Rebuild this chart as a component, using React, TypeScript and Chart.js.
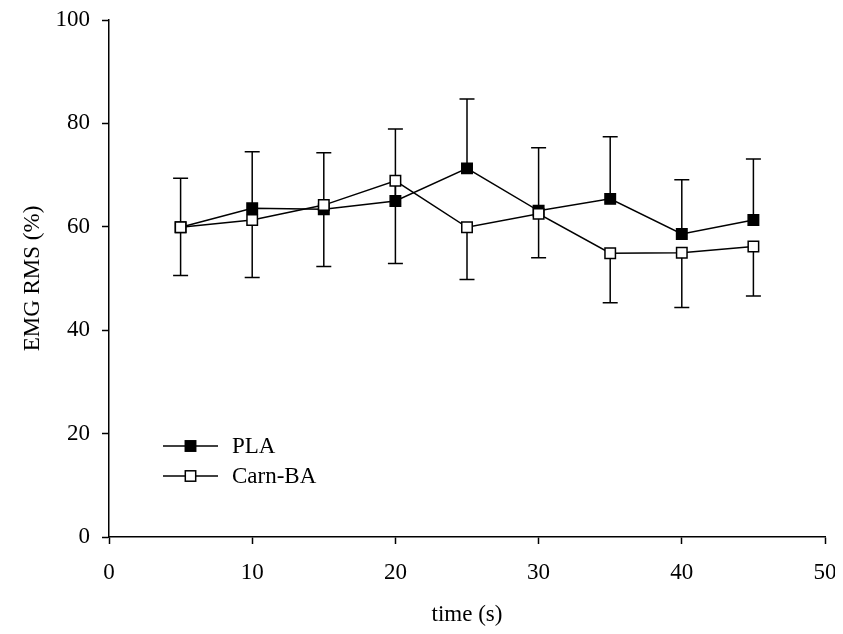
import React, { useEffect, useRef } from "react";
import { Chart, registerables } from "chart.js";

Chart.register(...registerables);

const timePoints = [5, 10, 15, 20, 25, 30, 35, 40, 45];
const plaMean = [59.9, 63.6, 63.4, 65.0, 71.3, 63.1, 65.4, 58.6, 61.3];
const plaSD = [9.5, 10.9, 10.9, 13.9, 13.4, 12.2, 12.0, 10.5, 11.8];
const carnMean = [59.9, 61.3, 64.2, 68.9, 59.9, 62.5, 54.9, 55.0, 56.2];
const carnSD = [9.3, 11.1, 11.9, 16.0, 10.1, 8.5, 9.6, 10.6, 9.6];
const seriesNames = ["PLA", "Carn-BA"];
const xTitle = "time (s)";
const yTitle = "EMG RMS (%)";

const FONT = "'Liberation Serif', 'Times New Roman', serif";
const FS = 23;

const errorBarPlugin = {
  id: "errorBars",
  beforeDatasetsDraw(chart: any) {
    const { ctx, scales } = chart;
    const xs = scales.x;
    const ys = scales.y;
    ctx.save();
    ctx.strokeStyle = "#000";
    ctx.lineWidth = 1.5;
    const cap = 7.5;
    const drawBar = (x: number, v0: number, v1: number) => {
      const px = xs.getPixelForValue(x);
      const p0 = ys.getPixelForValue(v0);
      const p1 = ys.getPixelForValue(v1);
      ctx.beginPath();
      ctx.moveTo(px, p0);
      ctx.lineTo(px, p1);
      ctx.moveTo(px - cap, p1);
      ctx.lineTo(px + cap, p1);
      ctx.stroke();
    };
    timePoints.forEach((t, i) => {
      drawBar(t, plaMean[i], plaMean[i] + plaSD[i]);
      drawBar(t, carnMean[i], carnMean[i] - carnSD[i]);
    });
    ctx.restore();
  },
};

const legendPlugin = {
  id: "customLegend",
  afterDraw(chart: any) {
    const { ctx, chartArea } = chart;
    const x0 = chartArea.left + 54;
    const x1 = chartArea.left + 109;
    const xm = chartArea.left + 81.5;
    const tx = chartArea.left + 123;
    const rows = [
      { y: chartArea.bottom - 91, fill: "#000", label: seriesNames[0] },
      { y: chartArea.bottom - 61, fill: "#fff", label: seriesNames[1] },
    ];
    ctx.save();
    rows.forEach((r) => {
      ctx.strokeStyle = "#000";
      ctx.lineWidth = 1.5;
      ctx.beginPath();
      ctx.moveTo(x0, r.y);
      ctx.lineTo(x1, r.y);
      ctx.stroke();
      const s = 5.2;
      ctx.fillStyle = r.fill;
      ctx.fillRect(xm - s, r.y - s, 2 * s, 2 * s);
      ctx.strokeRect(xm - s, r.y - s, 2 * s, 2 * s);
      ctx.fillStyle = "#000";
      ctx.font = `${FS}px ${FONT}`;
      ctx.textAlign = "left";
      ctx.textBaseline = "middle";
      ctx.fillText(r.label, tx, r.y + 1);
    });
    ctx.restore();
  },
};

export default function App() {
  const ref = useRef<HTMLCanvasElement | null>(null);
  useEffect(() => {
    if (!ref.current) return;
    const chart = new Chart(ref.current, {
      type: "line",
      data: {
        datasets: [
          {
            label: seriesNames[0],
            data: timePoints.map((t, i) => ({ x: t, y: plaMean[i] })),
            borderColor: "#000",
            borderWidth: 1.5,
            backgroundColor: "#000",
            pointStyle: "rect",
            pointRadius: 7.4,
            pointBorderWidth: 1.5,
            pointBackgroundColor: "#000",
            pointBorderColor: "#000",
            order: 1,
          },
          {
            label: seriesNames[1],
            data: timePoints.map((t, i) => ({ x: t, y: carnMean[i] })),
            borderColor: "#000",
            borderWidth: 1.5,
            backgroundColor: "#fff",
            pointStyle: "rect",
            pointRadius: 7.4,
            pointBorderWidth: 1.5,
            pointBackgroundColor: "#fff",
            pointBorderColor: "#000",
            order: 0,
          },
        ],
      },
      options: {
        responsive: false,
        animation: false,
        layout: { padding: { top: 12, right: 10, bottom: 0, left: 0 } },
        plugins: {
          legend: { display: false },
          tooltip: { enabled: false },
        },
        scales: {
          x: {
            type: "linear",
            min: 0,
            max: 50,
            ticks: {
              stepSize: 10,
              color: "#000",
              font: { family: FONT, size: FS },
              padding: 15,
              maxRotation: 0,
            },
            grid: {
              drawOnChartArea: false,
              drawTicks: true,
              tickLength: 7,
              tickWidth: 1.5,
              color: "#000",
            },
            border: { display: true, color: "#000", width: 1.5 },
            title: {
              display: true,
              text: xTitle,
              color: "#000",
              font: { family: FONT, size: FS, lineHeight: 1 },
              padding: { top: 0, bottom: 0 },
            },
            afterFit(scale: any) {
              scale.height = 89;
              scale.paddingLeft = 0;
              scale.paddingRight = 0;
            },
          },
          y: {
            type: "linear",
            min: 0,
            max: 100,
            ticks: {
              stepSize: 20,
              color: "#000",
              font: { family: FONT, size: FS },
              padding: 12,
            },
            grid: {
              drawOnChartArea: false,
              drawTicks: true,
              tickLength: 7,
              tickWidth: 1.5,
              color: "#000",
            },
            border: { display: true, color: "#000", width: 1.5 },
            title: {
              display: true,
              text: yTitle,
              color: "#000",
              font: { family: FONT, size: FS, lineHeight: 1 },
              padding: { top: 13, bottom: 0 },
            },
            afterFit(scale: any) {
              scale.width = 101;
              scale.paddingTop = 0;
              scale.paddingBottom = 0;
            },
          },
        },
      },
      plugins: [errorBarPlugin, legendPlugin],
    } as any);
    return () => chart.destroy();
  }, []);
  return (
    <div style={{ width: 827, height: 618 }}>
      <canvas ref={ref} width={827} height={618} style={{ display: "block" }} />
    </div>
  );
}
